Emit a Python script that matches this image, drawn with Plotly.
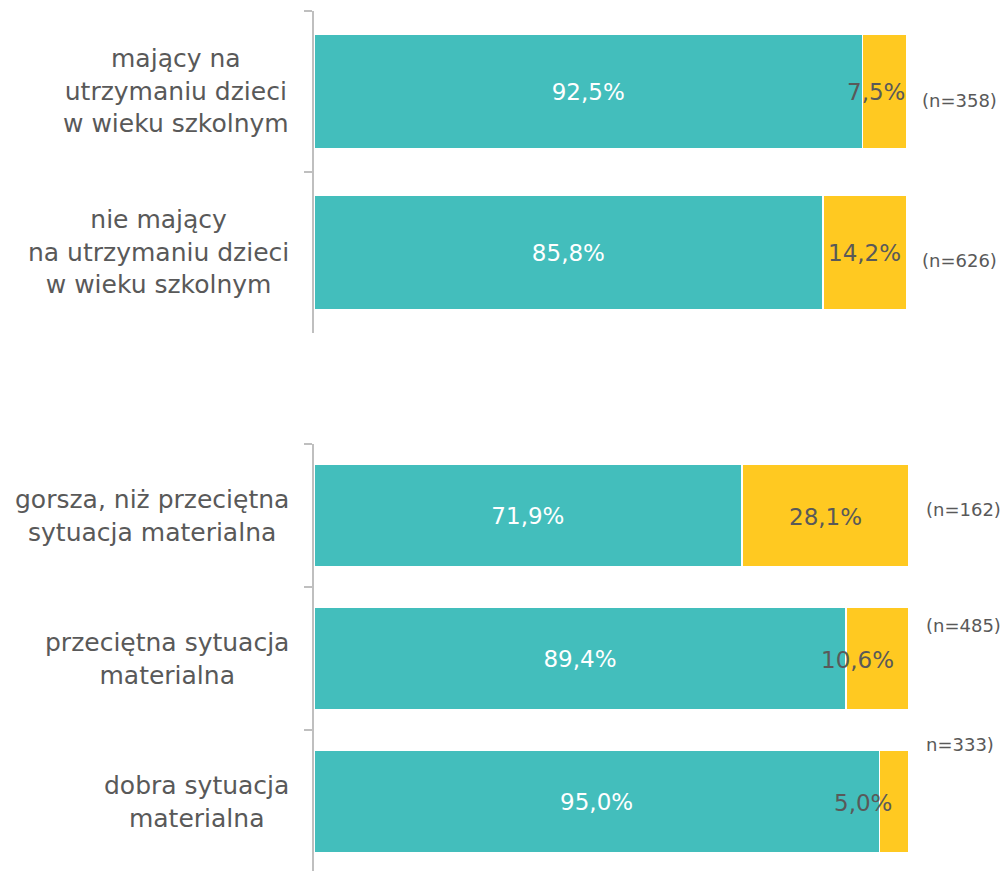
import plotly.graph_objects as go

# ---- data ----
cats_top = ["mający na<br>utrzymaniu dzieci<br>w wieku szkolnym",
            "nie mający<br>na utrzymaniu dzieci<br>w wieku szkolnym"]
teal_top = [92.5, 85.8]
yellow_top = [7.5, 14.2]
n_top = ["(n=358)", "(n=626)"]

cats_bot = ["gorsza, niż przeciętna<br>sytuacja materialna",
            "przeciętna sytuacja<br>materialna",
            "dobra sytuacja<br>materialna"]
teal_bot = [71.9, 89.4, 95.0]
yellow_bot = [28.1, 10.6, 5.0]
n_bot = ["(n=162)", "(n=485)", "n=333)"]

# ---- style ----
TEAL = "#43BEBC"
YELLOW = "#FFC921"
GREY_TXT = "#595959"
AXIS = "#BFBFBF"
FONT = "DejaVu Sans"
W, H = 1002, 871

def fmt(v):
    return f"{v:.1f}".replace(".", ",") + "%"

fig = go.Figure()

def add_group(cats, teal, yellow, xa, ya):
    fig.add_trace(go.Bar(
        y=cats, x=teal, orientation="h", xaxis=xa, yaxis=ya,
        marker=dict(color=TEAL, line=dict(color="white", width=1.5)),
        text=[fmt(v) for v in teal], textposition="inside",
        insidetextanchor="middle", textangle=0, constraintext="none",
        textfont=dict(color="white", size=23, family=FONT),
        showlegend=False, hoverinfo="skip"))
    fig.add_trace(go.Bar(
        y=cats, x=yellow, orientation="h", xaxis=xa, yaxis=ya,
        marker=dict(color=YELLOW, line=dict(color="white", width=1.5)),
        showlegend=False, hoverinfo="skip"))

add_group(cats_top, teal_top, yellow_top, "x", "y")
add_group(cats_bot, teal_bot, yellow_bot, "x2", "y2")

yax_common = dict(type="category", showline=True, linecolor=AXIS, linewidth=2,
                  ticks="outside", tickson="boundaries", ticklen=8,
                  tickcolor=AXIS, tickwidth=2, showticklabels=False,
                  showgrid=False, zeroline=False, fixedrange=True)
xax_common = dict(range=[0, 100], visible=False, showgrid=False, zeroline=False,
                  fixedrange=True)

fig.update_layout(
    width=W, height=H,
    margin=dict(l=0, r=0, t=0, b=0),
    paper_bgcolor="white", plot_bgcolor="white",
    barmode="stack", bargap=0.29,
    font=dict(family=FONT, color=GREY_TXT),
    xaxis=dict(domain=[314 / W, 907 / W], anchor="y", **xax_common),
    yaxis=dict(domain=[1 - 333 / H, 1 - 11 / H], anchor="x",
               categoryorder="array", categoryarray=cats_top,
               range=[1.5, -0.5], **yax_common),
    xaxis2=dict(domain=[314 / W, 909 / W], anchor="y2", **xax_common),
    yaxis2=dict(domain=[0, 1 - 444 / H], anchor="x2",
                categoryorder="array", categoryarray=cats_bot,
                range=[2.5 - 2 / 143, -0.5], **yax_common),
)

anns = []
# category labels
for cats, ya in ((cats_top, "y"), (cats_bot, "y2")):
    for c in cats:
        anns.append(dict(x=291 / W, xref="paper", y=c, yref=ya,
                         text=c, showarrow=False, xanchor="right",
                         yanchor="middle", align="center",
                         font=dict(size=25, color=GREY_TXT, family=FONT)))

# yellow segment value labels (centred on the segment, small ones nudged left)
y_xshift_top = [-9, 0]
y_xshift_bot = [0, -20, -31]
for cats, teal, yellow, shifts, xa, ya in (
        (cats_top, teal_top, yellow_top, y_xshift_top, "x", "y"),
        (cats_bot, teal_bot, yellow_bot, y_xshift_bot, "x2", "y2")):
    for c, t, yv, s in zip(cats, teal, yellow, shifts):
        anns.append(dict(x=t + yv / 2, xref=xa, y=c, yref=ya, xshift=s,
                         yshift=-1, text=fmt(yv), showarrow=False,
                         xanchor="center", yanchor="middle",
                         font=dict(size=23, color=GREY_TXT, family=FONT)))

n_shift_top = [-9, -8]
n_shift_bot = [6, 33, 57]
n_x = [920, 920, 924, 924, 924]
for i, (lab, c, s) in enumerate(zip(n_top, cats_top, n_shift_top)):
    anns.append(dict(x=n_x[i] / W, xref="paper", y=c, yref="y", yshift=s,
                     text=lab, showarrow=False, xanchor="left",
                     yanchor="middle",
                     font=dict(size=18, color=GREY_TXT, family=FONT)))
for j, (lab, c, s) in enumerate(zip(n_bot, cats_bot, n_shift_bot)):
    anns.append(dict(x=n_x[2 + j] / W, xref="paper", y=c, yref="y2", yshift=s,
                     text=lab, showarrow=False, xanchor="left",
                     yanchor="middle",
                     font=dict(size=18, color=GREY_TXT, family=FONT)))

fig.update_layout(annotations=anns)
fig.write_html(
    "out.html",
    config={"displayModeBar": False, "staticPlot": True},
    post_script="document.body.style.margin='0';document.body.style.padding='0';"
                "document.body.style.overflow='hidden';"
                "document.documentElement.style.overflow='hidden';")
